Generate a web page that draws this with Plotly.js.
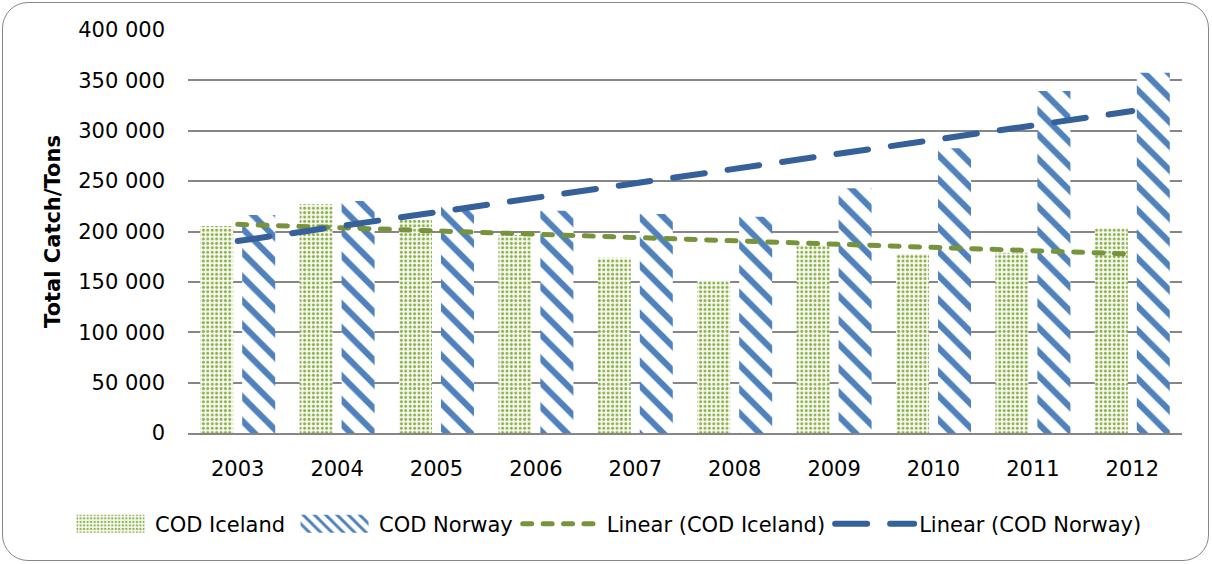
<!DOCTYPE html>
<html>
<head>
<meta charset="utf-8">
<script src="https://cdn.plot.ly/plotly-3.0.1.min.js"></script>
<style>
  html, body { margin: 0; padding: 0; background: #fff; }
  #wrap { position: relative; width: 1212px; height: 564px; }
  #chart { width: 1212px; height: 564px; }
  #frame { position: absolute; left: 2px; top: 2px; width: 1205px; height: 557px;
           border: 1.6px solid #878787; border-radius: 26px; pointer-events: none; }
  .scatterlayer path.js-line, .legendlines path { stroke-linecap: round; }
</style>
</head>
<body>
<div id="wrap">
  <div id="chart"></div>
  <div id="frame"></div>
</div>
<script>
// ---- data ----
const years = ['2003', '2004', '2005', '2006', '2007', '2008', '2009', '2010', '2011', '2012'];
const codIceland = [205500, 227000, 212000, 196500, 174000, 151000, 186500, 177700, 179000, 203200];
const codNorway  = [216400, 230300, 225300, 220600, 217400, 214700, 242900, 282600, 339500, 357600];
// linear trend lines: values at the first and last year
const trendYears = ['2003', '2012'];
const trendIceland = [207100, 177700];
const trendNorway  = [190500, 319600];
const yTicks = [0, 50000, 100000, 150000, 200000, 250000, 300000, 350000, 400000];

const FONT = 'DejaVu Sans, sans-serif';

const traces = [
  {
    type: 'bar', name: 'COD Iceland', x: years, y: codIceland,
    marker: { color: '#ffffff', line: { width: 0 },
      pattern: { shape: '.', fgcolor: '#8DB04A', bgcolor: '#F7FAF2', size: 4.4, solidity: 0.36, fillmode: 'replace' } }
  },
  {
    type: 'bar', name: 'COD Norway', x: years, y: codNorway,
    marker: { color: '#ffffff', line: { width: 0 },
      pattern: { shape: '\\', fgcolor: '#4F81BD', bgcolor: '#ffffff', size: 17, solidity: 0.36, fillmode: 'replace' } }
  },
  {
    type: 'scatter', mode: 'lines', name: 'Linear (COD Iceland)', x: trendYears, y: trendIceland,
    line: { color: '#77933C', width: 5, dash: '9px,11.4px' }
  },
  {
    type: 'scatter', mode: 'lines', name: 'Linear (COD Norway)', x: trendYears, y: trendNorway,
    line: { color: '#36609A', width: 6, dash: '32px,23px' }
  }
];

const layout = {
  width: 1212, height: 564,
  margin: { l: 188, r: 30, t: 30, b: 131, autoexpand: false },
  paper_bgcolor: '#ffffff', plot_bgcolor: '#ffffff',
  font: { family: FONT, size: 21, color: '#000000' },
  separators: ', ',
  barmode: 'group', bargap: 0.155, bargroupgap: 0.214,
  showlegend: true,
  legend: {
    orientation: 'h', xref: 'paper', yref: 'paper',
    x: (66 - 188) / 994, xanchor: 'left', y: -(524 - 433) / 403, yanchor: 'middle',
    font: { family: FONT, size: 21, color: '#000000' },
    itemwidth: 79, traceorder: 'normal', bgcolor: 'rgba(0,0,0,0)'
  },
  xaxis: {
    type: 'category', showgrid: false, zeroline: false,
    showline: true, linecolor: '#868686', linewidth: 2,
    ticks: '', ticklabelstandoff: 16,
    tickfont: { family: FONT, size: 21, color: '#000000' }
  },
  yaxis: {
    range: [0, 400000], tickvals: yTicks, tickformat: ',d',
    showgrid: true, gridcolor: '#868686', gridwidth: 2,
    zeroline: false, showline: false, ticks: '', ticklabelstandoff: 22,
    tickfont: { family: FONT, size: 21, color: '#000000' },
    title: { text: '<b>Total Catch/Tons</b>', standoff: 11,
             font: { family: FONT, size: 21, color: '#000000' } }
  }
};

Plotly.newPlot('chart', traces, layout, { displayModeBar: false, staticPlot: true }).then(function (gd) {
  // widen the bar swatches in the legend to match the reference
  gd.querySelectorAll('.legend .traces').forEach(function (tr) {
    tr.querySelectorAll('.legendbar path, .legendpoints path').forEach(function (p) {
      const d = p.getAttribute('d') || '';
      if (d.indexOf('M6,6H-6V-6H6Z') === 0) {
        p.setAttribute('d', 'M34,9H-34V-9H34Z');
      }
    });
  });
});
</script>
</body>
</html>
